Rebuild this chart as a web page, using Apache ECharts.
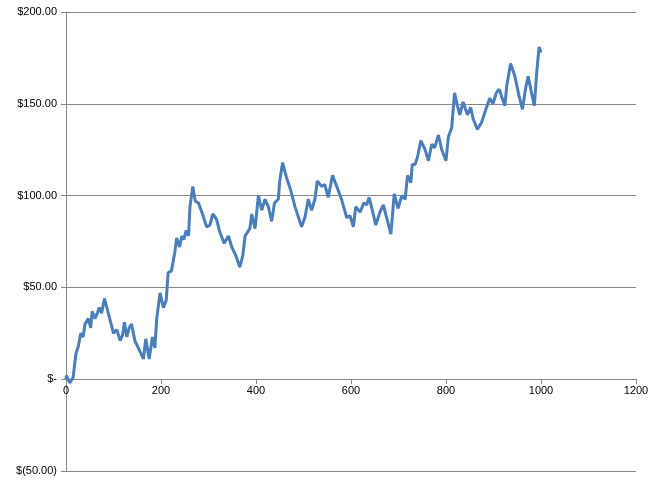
<!DOCTYPE html>
<html><head><meta charset="utf-8">
<script src="https://cdn.jsdelivr.net/npm/echarts@6/dist/echarts.min.js"></script>
<style>html,body{margin:0;padding:0;background:#fff}#c{width:661px;height:480px}</style>
</head><body><div id="c"></div>
<script>
const xs = [0,1,8,15,21,26,31,36,40,47,52,55,61,66,70,75,81,89,100,107,114,119,123,128,133,138,145,156,163,168,175,182,187,191,198,205,211,215,222,229,233,239,244,248,253,258,261,267,272,279,286,296,303,309,317,324,333,342,349,358,366,372,377,387,391,398,405,412,419,426,433,439,447,450,456,464,473,482,496,503,510,517,524,529,538,545,552,561,570,580,591,598,605,610,619,627,633,638,645,652,661,668,675,684,691,699,707,714,719,726,729,735,740,747,756,763,770,776,784,791,800,805,812,818,824,829,836,845,852,857,866,875,884,892,899,906,912,917,924,928,936,945,954,961,968,973,980,986,991,996,1000];
const ys = [0,2,-2,1,14,18,25,23,30,33,28,37,33,36,39,36,44,36,25,27,21,24,31,23,28,30,21,15,11,22,11,23,17,33,47,39,43,58,59,69,77,72,78,76,81,78,94,105,97,96,91,83,84,90,87,80,74,78,72,67,61,67,78,82,90,82,100,92,98,94,86,96,98,108,118,110,103,94,83,88,98,92,98,108,105,106,99,111,105,98,88,89,83,94,91,96,95,99,92,84,91,95,88,79,101,93,100,98,111,107,117,117,121,130,125,119,128,126,133,125,119,132,137,156,149,144,151,144,148,142,136,140,147,153,150,156,158,154,149,160,172,165,154,147,159,165,156,149,167,181,178];
const yTicks = {200:'$200.00',150:'$150.00',100:'$100.00',50:'$50.00',0:'$-','-50':'$(50.00)'};
const data = xs.map((x,i)=>[x,ys[i]]);
const chart = echarts.init(document.getElementById('c'));
chart.setOption({
  animation:false,
  grid:{left:66,right:25,top:12,bottom:9,containLabel:false},
  xAxis:{type:'value',min:0,max:1200,interval:200,position:'bottom',offset:-92,
    axisLine:{onZero:false,lineStyle:{color:'#868686'}},
    axisTick:{show:true,length:5,lineStyle:{color:'#868686'}},
    axisLabel:{color:'#000',fontSize:11,fontFamily:'Liberation Sans',margin:6,formatter:v=>String(v)},
    splitLine:{show:false}},
  yAxis:{type:'value',min:-50,max:200,interval:50,
    axisLine:{show:true,lineStyle:{color:'#868686'}},
    axisTick:{show:true,length:5,lineStyle:{color:'#868686'}},
    axisLabel:{color:'#000',fontSize:11,fontFamily:'Liberation Sans',margin:9,formatter:v=>yTicks[v]},
    splitLine:{show:true,lineStyle:{color:'#868686'}}},
  series:[{type:'line',data:data,symbol:'none',smooth:false,
    lineStyle:{color:'#4a7ebb',width:3}}]
});
</script></body></html>
